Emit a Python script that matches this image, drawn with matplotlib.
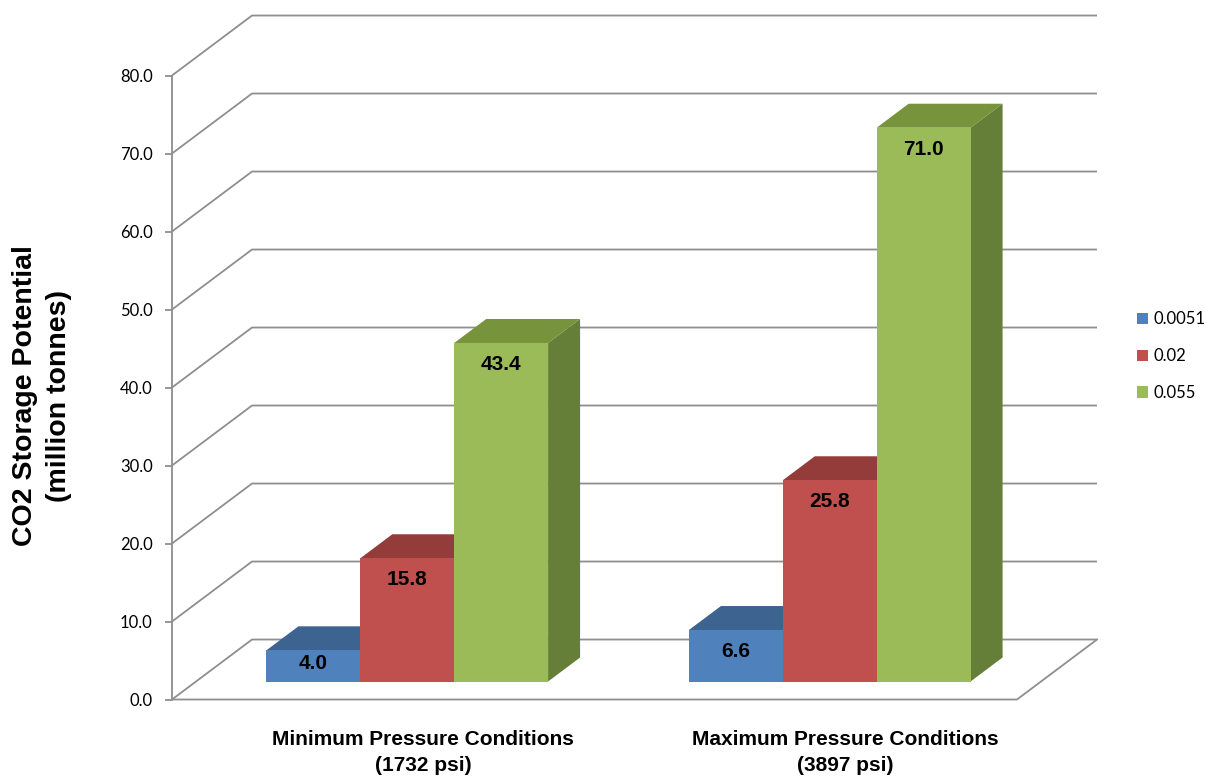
import matplotlib
matplotlib.use("Agg")
import matplotlib.pyplot as plt
from matplotlib.patches import Polygon, Patch

# ---- data ----
categories = ["Minimum Pressure Conditions\n(1732 psi)",
              "Maximum Pressure Conditions\n(3897 psi)"]
series_names = ["0.0051", "0.02", "0.055"]
values_0051 = [4.0, 6.6]
values_002 = [15.8, 25.8]
values_0055 = [43.4, 71.0]
y_ticks = [0, 10, 20, 30, 40, 50, 60, 70, 80]

series_values = [values_0051, values_002, values_0055]

# face colours per series: front, top, side
front_colors = ["#4F81BD", "#C0504D", "#9BBB59"]
top_colors = ["#3D6391", "#933C3A", "#77933C"]
side_colors = ["#345581", "#7E3331", "#667F38"]

GRID = "#8E8E8E"
TICK_FONT = "Lato"
BOLD_FONT = "Liberation Sans"

# ---- oblique 3-D geometry (data units) ----
DX = 0.1894      # horizontal shift of full depth, in category units
DY = 7.69        # vertical shift of full depth, in value units
GAP = 1.5        # gap width relative to bar width
F_FRONT, F_BACK = 0.30, 0.70   # depth span of the bars
YMAX = 80.0


def proj(x, y, d):
    return (x + d * DX, y + d * DY)


W, H, DPI = 1217, 777, 100
fig = plt.figure(figsize=(W / DPI, H / DPI), dpi=DPI)
fig.patch.set_facecolor("white")

px_left, px_right = 172, 1097
px_zero, px_per_unit = 699.5, 7.8
y_top = YMAX + DY
ax_h_px = (YMAX + DY) * px_per_unit
ax = fig.add_axes([px_left / W, (H - px_zero) / H,
                   (px_right - px_left) / W, ax_h_px / H])
ax.set_xlim(0, len(categories) + DX)
ax.set_ylim(0, y_top)
ax.set_facecolor("none")

# walls and floor lines
for v in y_ticks:
    xs, ys = zip(proj(0, v, 0), proj(0, v, 1), proj(len(categories), v, 1))
    ax.plot(xs, ys, color=GRID, lw=1.3, zorder=1, clip_on=False,
            solid_capstyle="butt")
xs, ys = zip(proj(0, 0, 0), proj(len(categories), 0, 0),
             proj(len(categories), 0, 1))
ax.plot(xs, ys, color=GRID, lw=1.3, zorder=1, clip_on=False)

# bars
w = 1.0 / (len(series_values) + GAP)
for c in range(len(categories)):
    for i, vals in enumerate(series_values):
        v = vals[c]
        x0 = c + GAP / 2 * w + i * w
        x1 = x0 + w
        z = 3 + c * 10 + i
        front = [proj(x0, 0, F_FRONT), proj(x1, 0, F_FRONT),
                 proj(x1, v, F_FRONT), proj(x0, v, F_FRONT)]
        top = [proj(x0, v, F_FRONT), proj(x1, v, F_FRONT),
               proj(x1, v, F_BACK), proj(x0, v, F_BACK)]
        side = [proj(x1, 0, F_FRONT), proj(x1, 0, F_BACK),
                proj(x1, v, F_BACK), proj(x1, v, F_FRONT)]
        ax.add_patch(Polygon(side, closed=True, facecolor=side_colors[i],
                             edgecolor="none", zorder=z, clip_on=False))
        ax.add_patch(Polygon(top, closed=True, facecolor=top_colors[i],
                             edgecolor="none", zorder=z, clip_on=False))
        ax.add_patch(Polygon(front, closed=True, facecolor=front_colors[i],
                             edgecolor="none", zorder=z, clip_on=False))
        lx, ly = proj((x0 + x1) / 2, v, F_FRONT)
        ly -= min(2.75, 0.42 * v)
        ax.text(lx, ly, f"{v:.1f}", ha="center", va="center",
                fontsize=15, fontweight="bold", family=BOLD_FONT,
                color="black", zorder=z + 0.5, clip_on=False)

# front value axis
for s in ["top", "right", "bottom"]:
    ax.spines[s].set_visible(False)
ax.spines["left"].set_bounds(0, YMAX)
ax.spines["left"].set_color(GRID)
ax.spines["left"].set_linewidth(1.3)
ax.set_yticks(y_ticks)
ax.set_yticklabels([f"{t:.1f}" for t in y_ticks], fontsize=12,
                   family=TICK_FONT, color="black")
ax.tick_params(axis="y", direction="out", length=5, width=1.3,
               color=GRID, pad=9)

# category labels, centred at mid-depth
ax.set_xticks([c + 0.5 + DX / 2 for c in range(len(categories))])
ax.set_xticklabels(categories, fontsize=15, fontweight="bold",
                   family=BOLD_FONT, linespacing=1.45)
ax.tick_params(axis="x", length=0, pad=22)

# value axis title
fig.text(42 / W, 1 - 396 / H, "CO2 Storage Potential\n(million tonnes)",
         rotation=90, ha="center", va="center", fontsize=20.5,
         fontweight="bold", family=BOLD_FONT, linespacing=1.4)

# legend
handles = [Patch(facecolor=front_colors[i], edgecolor="none")
           for i in range(len(series_names))]
fig.legend(handles, series_names, loc="center left",
           bbox_to_anchor=(1137 / W, 1 - 356 / H), frameon=False,
           prop={"family": TICK_FONT, "size": 12},
           handlelength=0.65, handleheight=0.65, handletextpad=0.35,
           labelspacing=1.25, borderpad=0, borderaxespad=0)

fig.savefig("out.png", dpi=DPI, facecolor="white")
